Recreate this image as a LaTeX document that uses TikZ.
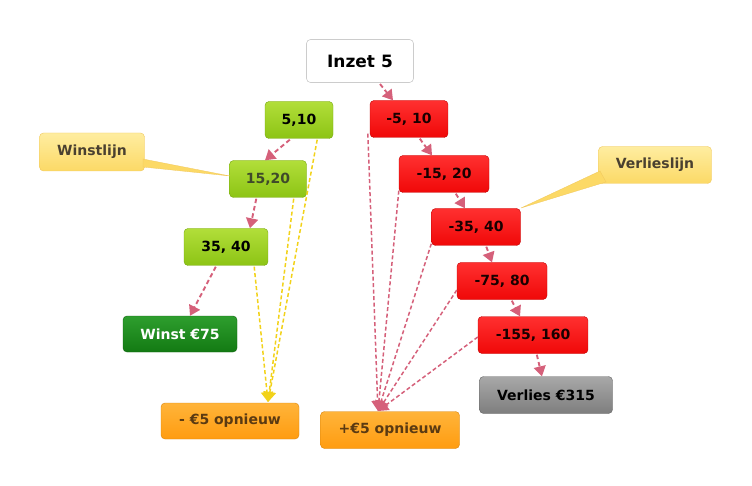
\documentclass[tikz,border=0pt]{standalone}
\usepackage{fontspec}
\setmainfont{DejaVu Sans}
\usetikzlibrary{arrows.meta}
\definecolor{arrred}{HTML}{D5607A}
\definecolor{arryel}{HTML}{F2D21A}
\definecolor{gtop}{HTML}{B2DE3A}
\definecolor{gbot}{HTML}{8CC414}
\definecolor{dgtop}{HTML}{2E9E2E}
\definecolor{dgbot}{HTML}{137A13}
\definecolor{rtop}{HTML}{FF3030}
\definecolor{rbot}{HTML}{F00808}
\definecolor{otop}{HTML}{FFB43A}
\definecolor{obot}{HTML}{FF9C10}
\definecolor{grtop}{HTML}{A8A8A8}
\definecolor{grbot}{HTML}{7E7E7E}
\definecolor{ytop}{HTML}{FEEDA0}
\definecolor{ybot}{HTML}{FCD966}
\definecolor{oltext}{HTML}{3F4A2A}
\definecolor{brtext}{HTML}{5A3A12}
\definecolor{cltext}{HTML}{4A4030}
\begin{document}
\begin{tikzpicture}[x=1pt,y=-1pt,
  box/.style={rounded corners=4pt, minimum height=37pt, inner sep=0pt,
    font=\bfseries\fontsize{14}{16}\selectfont},
  greenbox/.style={box, top color=gtop, bottom color=gbot, draw=gbot!85!black, line width=0.4pt},
  dgreenbox/.style={box, top color=dgtop, bottom color=dgbot, draw=dgbot!80!black, line width=0.4pt, text=white},
  redbox/.style={box, top color=rtop, bottom color=rbot, draw=rbot!80!black, line width=0.4pt, text=black!90!red},
  orangebox/.style={box, top color=otop, bottom color=obot, draw=obot!85!black, line width=0.4pt, text=brtext},
  greybox/.style={box, top color=grtop, bottom color=grbot, draw=grbot!80!black, line width=0.4pt, text=black},
  callbox/.style={box, top color=ytop, bottom color=ybot, draw=ybot!80!brown, line width=0.4pt, text=cltext},
  whitebox/.style={box, fill=white, draw=black!20, line width=0.6pt, font=\bfseries\fontsize{17}{19}\selectfont, minimum height=43pt},
  redarr/.style={draw=arrred, line width=1.9pt, dash pattern=on 4.5pt off 3pt, -{Triangle[length=10pt,width=12pt]}},
  thinred/.style={draw=arrred, line width=1.5pt, dash pattern=on 4pt off 2.5pt, -{Triangle[length=10pt,width=12pt]}},
  yelarr/.style={draw=arryel, line width=1.5pt, dash pattern=on 4pt off 2.5pt, -{Triangle[length=10pt,width=12pt]}}
]
\useasboundingbox (0,0) rectangle (752,486);

\node[whitebox, minimum width=107pt] (inzet) at (360,61) {Inzet 5};

\node[greenbox, minimum width=68pt] (g1) at (299,120) {5,10};
\node[greenbox, minimum width=77pt, text=oltext] (g2) at (268,179) {15,20};
\node[greenbox, minimum width=84pt] (g3) at (226,247) {35, 40};
\node[dgreenbox, minimum width=114pt, minimum height=36pt] (winst) at (180,334) {Winst €75};

\node[redbox, minimum width=78pt] (r1) at (409,119) {-5, 10};
\node[redbox, minimum width=90pt] (r2) at (444,174) {-15, 20};
\node[redbox, minimum width=89pt] (r3) at (476,227) {-35, 40};
\node[redbox, minimum width=90pt] (r4) at (502,281) {-75, 80};
\node[redbox, minimum width=110pt] (r5) at (533,335) {-155, 160};
\node[greybox, minimum width=133pt] (verlies) at (546,395) {Verlies €315};

\node[orangebox, minimum width=138pt, minimum height=36pt] (min5) at (230,421) {- €5 opnieuw};
\node[orangebox, minimum width=139pt] (plus5) at (390,430) {+€5 opnieuw};

\node[callbox, minimum width=105pt, minimum height=38pt] (wl) at (92,152) {Winstlijn};
\node[callbox, minimum width=113pt] (vl) at (655,165) {Verlieslijn};

% callout pointers
\coordinate (wla) at (143,159);
\coordinate (wlb) at (143,167);
\coordinate (wlt) at (230,176);
\fill[ybot, draw=ybot!80!brown, line width=0.3pt] (wla) -- (wlt) -- (wlb) -- cycle;
\coordinate (vla) at (600,171);
\coordinate (vlb) at (606,182);
\coordinate (vlt) at (521,208);
\fill[ybot, draw=ybot!80!brown, line width=0.3pt] (vla) -- (vlt) -- (vlb) -- cycle;

% main chain arrows
\draw[redarr] (380,84) -- (r1.north west -| 393,0);
\draw[redarr] (g1.south west) ++(25,1) -- ([xshift=-17pt]g2.north east -| 282,0);
\draw[redarr] (g2.south west) ++(27,1) -- ([xshift=10pt]g3.north -| 240,0);
\draw[redarr] (g3.south west) ++(32,1) -- (winst.north -| 190,0);

\draw[redarr] (r1.south west) ++(50,1) -- (r2.north west -| 432,0);
\draw[redarr] (r2.south west) ++(57,1) -- (r3.north west -| 465,0);
\draw[redarr] (r3.south west) ++(55,1) -- (r4.north west -| 492,0);
\draw[redarr] (r4.south west) ++(55,1) -- (r5.north west -| 520,0);
\draw[redarr] (r5.south west) ++(59,1) -- (verlies.north west -| 542,0);

% yellow lines to -5 opnieuw
\coordinate (my) at (268,402);
\draw[yelarr] (g1.south east) ++(-16,1) -- (my);
\draw[yelarr] (g2.south east) ++(-13,1) -- (my);
\draw[yelarr] (g3.south east) ++(-14,1) -- (my);

% red lines to +5 opnieuw
\coordinate (mp) at (378,411);
\draw[thinred] (r1.south west) ++(-2,-4) -- (mp);
\draw[thinred] (r2.south west) ++(0,-2) -- (mp);
\draw[thinred] (r3.south west) ++(0,-2) -- (mp);
\draw[thinred] (r4.west) ++(0,9) -- (mp);
\draw[thinred] (r5.west) ++(0,2) -- (mp);
\end{tikzpicture}
\end{document}
